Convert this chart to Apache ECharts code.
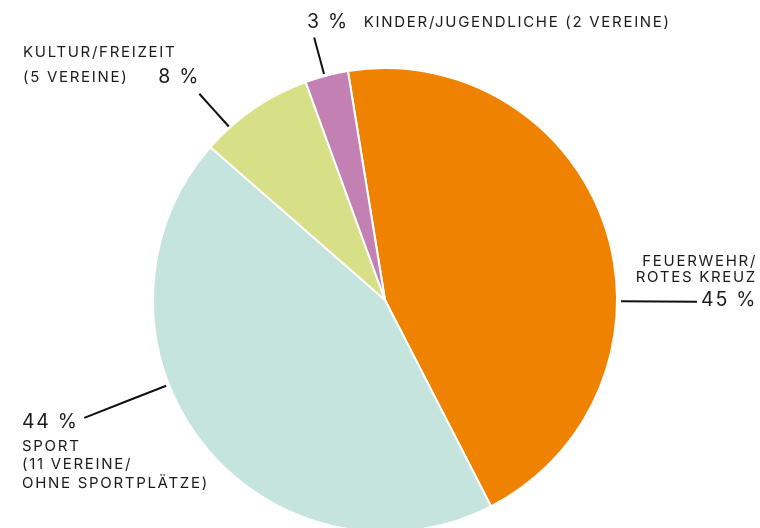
<!DOCTYPE html>
<html>
<head>
<meta charset="utf-8">
<script src="https://cdn.jsdelivr.net/npm/echarts@6/dist/echarts.min.js"></script>
<style>
html,body{margin:0;padding:0;background:#fff;}
#chart{width:760px;height:528px;}
</style>
</head>
<body>
<div id="chart"></div>
<script>
// ---- data ----
const categories = ['Feuerwehr/Rotes Kreuz', 'Sport', 'Kultur/Freizeit', 'Kinder/Jugendliche'];
const labelNames = [
  ['FEUERWEHR/', 'ROTES KREUZ'],
  ['SPORT', '(11 VEREINE/', 'OHNE SPORTPLÄTZE)'],
  ['KULTUR/FREIZEIT', '(5 VEREINE)'],
  ['KINDER/JUGENDLICHE (2 VEREINE)']
];
const shares = [45, 44, 8, 3];
const colors = ['#EF8200', '#C5E4DE', '#D7DF87', '#C380B2'];

// ---- layout / style ----
const CX = 385, CY = 300, R = 232;
const FONT = 'Inter, "Noto Sans", sans-serif';
const TXT = '#1b1b1b';
const LS = 1.7; // letter spacing (px) of the label type

// tracked lettering: measured and drawn with the same spacing
(function () {
  const mctx = document.createElement('canvas').getContext('2d');
  echarts.setPlatformAPI({
    measureText: function (text, font) {
      mctx.font = font || '12px sans-serif';
      const m = mctx.measureText(text || '');
      return { width: m.width + LS * (text || '').length };
    }
  });
  const proto = CanvasRenderingContext2D.prototype;
  const origFill = proto.fillText;
  proto.fillText = function (t, x, y, w) {
    if ('letterSpacing' in this) this.letterSpacing = LS + 'px';
    return w === undefined ? origFill.call(this, t, x, y) : origFill.call(this, t, x, y, w);
  };
})();

// label line: angle clockwise from top (deg), gap from rim and end distance from rim (px)
const lineSpec = [
  { angle: 90.3, gap: 4, len: 80 },
  { angle: 248.6, gap: 3, len: 91 },
  { angle: 318, gap: 1.5, len: 45.5 },
  { angle: 344.9, gap: 2, len: 40 }
];
// label anchors
const labelSpec = [
  { x: 757, y: 315.5, align: 'right', verticalAlign: 'bottom' },
  { x: 22, y: 407, align: 'left', verticalAlign: 'top' },
  { x: 23, y: 39.5, align: 'left', verticalAlign: 'top' },
  { x: 307, y: 11, align: 'left', verticalAlign: 'top' }
];

const N = { fontFamily: FONT, fontSize: 15, color: TXT };
const P = { fontFamily: FONT, fontSize: 19.5, color: TXT };
const richs = [
  { n: Object.assign({ lineHeight: 16 }, N), p: Object.assign({ lineHeight: 30 }, P) },
  { n: Object.assign({ lineHeight: 18.5 }, N), p: Object.assign({ lineHeight: 30 }, P) },
  { n: Object.assign({ lineHeight: 25 }, N),
    p: Object.assign({ lineHeight: 25 }, P),
    g: { width: 30, fontSize: 10, lineHeight: 10 } },
  { n: Object.assign({ lineHeight: 22 }, N),
    p: Object.assign({ lineHeight: 22 }, P),
    g: { width: 15, fontSize: 10, lineHeight: 10 } }
];

function pct(v) { return '{p|' + v + ' %}'; }
function nm(lines) { return lines.map(l => '{n|' + l + '}'); }
const formatters = [
  (v) => nm(labelNames[0]).join('\n') + '\n' + pct(v),
  (v) => pct(v) + '\n' + nm(labelNames[1]).join('\n'),
  (v) => '{n|' + labelNames[2][0] + '}\n{n|' + labelNames[2][1] + '}{g| }' + pct(v),
  (v) => pct(v) + '{g| }{n|' + labelNames[3][0] + '}'
];

const data = categories.map((c, i) => ({
  name: c,
  value: shares[i],
  itemStyle: { color: colors[i] },
  label: {
    formatter: (p) => formatters[i](p.value),
    rich: richs[i]
  }
}));

const chart = echarts.init(document.getElementById('chart'), null, { renderer: 'canvas' });
chart.setOption({
  animation: false,
  series: [{
    type: 'pie',
    center: [CX, CY],
    radius: R,
    startAngle: 99.2,
    clockwise: true,
    avoidLabelOverlap: false,
    itemStyle: { borderColor: '#fff', borderWidth: 2 },
    label: { show: true, position: 'outside' },
    labelLine: { show: true, smooth: false, lineStyle: { color: '#111', width: 2 } },
    emphasis: { disabled: true },
    labelLayout: function (params) {
      const i = params.dataIndex;
      const s = lineSpec[i];
      const a = s.angle * Math.PI / 180;
      const dx = Math.sin(a), dy = -Math.cos(a);
      const p0 = [CX + dx * (R + s.gap), CY + dy * (R + s.gap)];
      const p2 = [CX + dx * (R + s.len), CY + dy * (R + s.len)];
      const p1 = [(p0[0] + p2[0]) / 2, (p0[1] + p2[1]) / 2];
      const L = labelSpec[i];
      return {
        x: L.x, y: L.y, align: L.align, verticalAlign: L.verticalAlign,
        labelLinePoints: [p0, p1, p2]
      };
    },
    data: data
  }]
});
</script>
</body>
</html>
